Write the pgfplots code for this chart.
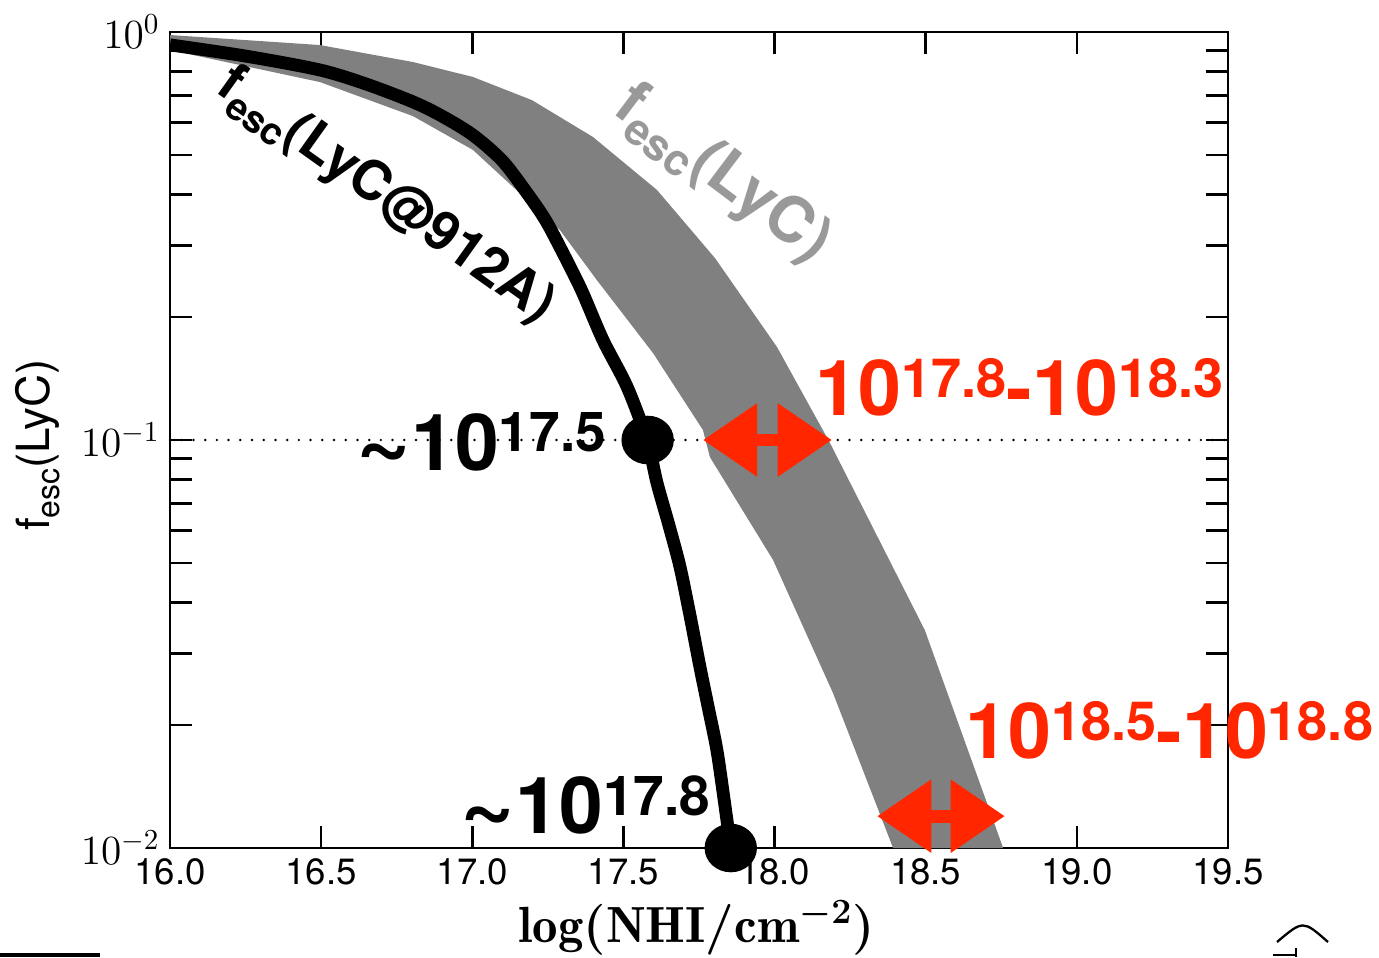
\RequirePackage{fix-cm}
\documentclass[border=0pt]{standalone}
\usepackage{pgfplots}
\pgfplotsset{compat=1.18}
\usetikzlibrary{arrows.meta}
\usepackage{fontspec}
\newfontfamily\hv{TeX Gyre Heros}

\definecolor{band}{RGB}{128,128,128}
\definecolor{bandtext}{RGB}{153,153,153}
\definecolor{lyred}{RGB}{255,38,0}

\newcommand{\sz}[1]{\fontsize{#1}{#1}\selectfont}
% power of ten with a raised, smaller exponent in the text font
\newcommand{\pw}[1]{10\raisebox{0.23em}{\scalebox{0.7}{#1}}}
\newcommand{\fesc}{f\raisebox{-0.22em}{\scalebox{0.7}{esc}}}
\newcommand{\tld}{\raisebox{-0.04em}{\scalebox{1.2}{\textasciitilde}}}

\tikzset{dblarrow/.style={lyred, line width=4.5pt,
  {Triangle[length=19pt 0 0,width=24.5pt 0 0]}-{Triangle[length=19pt 0 0,width=24.5pt 0 0]}}}

\begin{document}
\begin{tikzpicture}
\begin{axis}[
  scale only axis, width=370.3pt, height=285.6pt,
  xmin=16, xmax=19.5, ymin=0.01, ymax=1, ymode=log,
  clip=false,
  axis line style={line width=1pt},
  tick align=inside,
  major tick length=7.7pt, minor tick length=7.7pt,
  every tick/.style={black, line width=0.9pt},
  xtick={16,16.5,17,17.5,18,18.5,19,19.5},
  xticklabels={16.0,16.5,17.0,17.5,18.0,18.5,19.0,19.5},
  xticklabel style={font=\hv\sz{12.8}},
  ytick={0.01,0.1,1},
  minor ytick={0.02,0.03,0.04,0.05,0.06,0.07,0.08,0.09,0.2,0.3,0.4,0.5,0.6,0.7,0.8,0.9},
  yticklabels={{\sz{14.5}$10^{-2}$},{\sz{14.5}$10^{-1}$},{\sz{14.5}$10^{0}$}},
  xlabel={$\log(\mathrm{NHI}/\mathrm{cm}^{-2})$},
  xlabel style={font=\boldmath\sz{17.8}, at={(axis description cs:0.498,-0.098)}, anchor=center},
  ylabel={\fesc(LyC)},
  ylabel style={font=\hv\sz{16}, at={(axis description cs:-0.1248,0.494)}, anchor=center},
]

% escape-fraction band for the full Lyman continuum
\addplot[fill=band, draw=none] coordinates {
  (16.000,0.983) (16.496,0.929) (16.804,0.844) (17.002,0.776) (17.197,0.681)
  (17.399,0.553) (17.611,0.410) (17.803,0.279) (18.008,0.169) (18.183,0.0984)
  (18.497,0.0342) (18.756,0.0100)
  (18.392,0.0100) (18.193,0.0240) (17.995,0.0508) (17.786,0.0908) (17.763,0.1058)
  (17.598,0.1633) (17.412,0.2466) (17.290,0.327) (17.181,0.388) (17.002,0.514)
  (16.804,0.622) (16.496,0.754) (16.000,0.903)
} -- cycle;

% escape fraction at 912 A
\addplot[black, line width=4.5pt, line join=round, smooth, tension=0.5] coordinates {
  (16.000,0.930) (16.250,0.873) (16.496,0.807) (16.650,0.745) (16.804,0.674)
  (16.900,0.622) (17.002,0.559) (17.100,0.483) (17.181,0.403) (17.240,0.348)
  (17.290,0.297) (17.360,0.234) (17.432,0.176) (17.512,0.135) (17.578,0.100)
  (17.611,0.0785) (17.650,0.0620) (17.687,0.0489) (17.720,0.0372) (17.753,0.0278)
  (17.780,0.0222) (17.809,0.0174) (17.832,0.0133) (17.855,0.0100)
};

% f_esc = 0.1 reference line
\addplot[black, line width=0.95pt, line cap=round, dash pattern=on 0pt off 4.1pt]
  coordinates {(16,0.1) (19.5,0.1)};

\addplot[only marks, mark=*, mark size=8.3pt,
  mark options={fill=black, draw=black, xscale=1.08}]
  coordinates {(17.580,0.1) (17.855,0.01)};

% column-density ranges of the band
\addplot[dblarrow] coordinates {(17.763,0.1) (18.190,0.1)};
\addplot[dblarrow] coordinates {(18.339,0.01197) (18.762,0.01197)};

\node[anchor=base west, inner sep=0pt, font=\hv\bfseries\sz{27.5}]
  at (axis cs:16.615,0.0844) {\tld\pw{17.5}};
\node[anchor=base west, inner sep=0pt, font=\hv\bfseries\sz{27.5}]
  at (axis cs:16.960,0.01088) {\tld\pw{17.8}};
\node[anchor=base west, inner sep=0pt, text=lyred, font=\hv\bfseries\sz{27}]
  at (axis cs:18.134,0.1151) {\pw{17.8}-\pw{18.3}};
\node[anchor=base west, inner sep=0pt, text=lyred, font=\hv\bfseries\sz{27}]
  at (axis cs:18.630,0.01662) {\pw{18.5}-\pw{18.8}};

\node[anchor=center, rotate=-35.5, inner sep=0pt, font=\hv\bfseries\sz{19}]
  at (axis cs:16.712,0.395) {\fesc(LyC@912A)};
\node[anchor=center, rotate=-37, inner sep=0pt, text=bandtext, font=\hv\bfseries\sz{22}]
  at (axis cs:17.826,0.446) {\fesc(LyC)};

% fragments at the lower corners of the page
\fill (rel axis cs:-0.1607,-0.1336) rectangle (rel axis cs:-0.0662,-0.1283);
\draw[line width=0.8pt] (rel axis cs:1.0463,-0.1152)
  .. controls (rel axis cs:1.0709,-0.0882) .. (rel axis cs:1.0945,-0.1152);
\draw[line width=0.8pt] (rel axis cs:1.0425,-0.1311) -- (rel axis cs:1.0652,-0.1311)
  (rel axis cs:1.0643,-0.1225) -- (rel axis cs:1.0643,-0.1336);

\coordinate (bbA) at (rel axis cs:-0.1607,-0.1336);
\coordinate (bbB) at (rel axis cs:1.1427,1.0392);
\end{axis}
\pgfresetboundingbox
\path[use as bounding box] (bbA) rectangle (bbB);
\end{tikzpicture}
\end{document}
